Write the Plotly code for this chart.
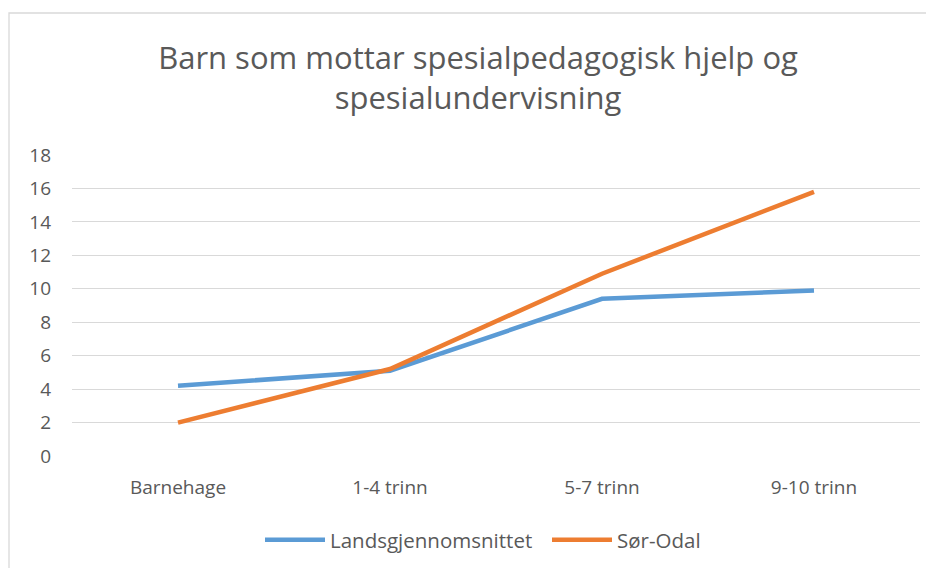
import plotly.graph_objects as go

categories = ["Barnehage", "1-4 trinn", "5-7 trinn", "9-10 trinn"]
landsgjennomsnittet = [4.2, 5.1, 9.4, 9.9]
sor_odal = [2.0, 5.2, 10.9, 15.8]
y_ticks = [0, 2, 4, 6, 8, 10, 12, 14, 16, 18]

FONT = "Open Sans"
GRAY = "#595959"

fig = go.Figure()
fig.add_trace(go.Scatter(x=categories, y=landsgjennomsnittet, mode="lines",
                         name="Landsgjennomsnittet",
                         line=dict(color="#5B9BD5", width=4.5)))
fig.add_trace(go.Scatter(x=categories, y=sor_odal, mode="lines",
                         name="Sør-Odal",
                         line=dict(color="#ED7D31", width=4.5)))

W, H = 934, 568
L, R, T, B = 64, 22, 147, 120
pw = W - L - R
ph = H - T - B

fig.update_layout(
    width=W, height=H,
    margin=dict(l=L, r=R, t=T, b=B, autoexpand=False),
    paper_bgcolor="white", plot_bgcolor="white",
    font=dict(family=FONT, color=GRAY, size=19),
    title=dict(text="Barn som mottar spesialpedagogisk hjelp og<br>spesialundervisning",
               x=470 / W, xanchor="center", y=1 - 61 / H, yanchor="top",
               font=dict(family=FONT, size=31, color=GRAY)),
    xaxis=dict(showgrid=False, showline=False, ticks="", range=[-0.5, 3.5],
               ticklabelstandoff=18, tickfont=dict(size=19, color=GRAY)),
    yaxis=dict(range=[0, 18], tickvals=y_ticks, showgrid=True, gridcolor="#D9D9D9",
               gridwidth=1.3, zeroline=False, showline=False, ticks="",
               ticklabelstandoff=20, tickfont=dict(size=19, color=GRAY)),
    legend=dict(orientation="h", x=(252 - L) / pw, xanchor="left", y=-(532 - 448) / ph,
                yanchor="middle", font=dict(size=20.5, color=GRAY), itemwidth=60,
                entrywidth=212, entrywidthmode="pixels"),
    showlegend=True,
)

fig.add_shape(type="rect", xref="paper", yref="paper",
              x0=(1 - L) / pw, x1=(W + 10 - L) / pw,
              y0=-(H + 10 - (T + ph)) / ph, y1=(T + ph - 5) / ph,
              line=dict(color="#D9D9D9", width=1.3), fillcolor="rgba(0,0,0,0)", layer="below")

fig.write_html("out.html")
